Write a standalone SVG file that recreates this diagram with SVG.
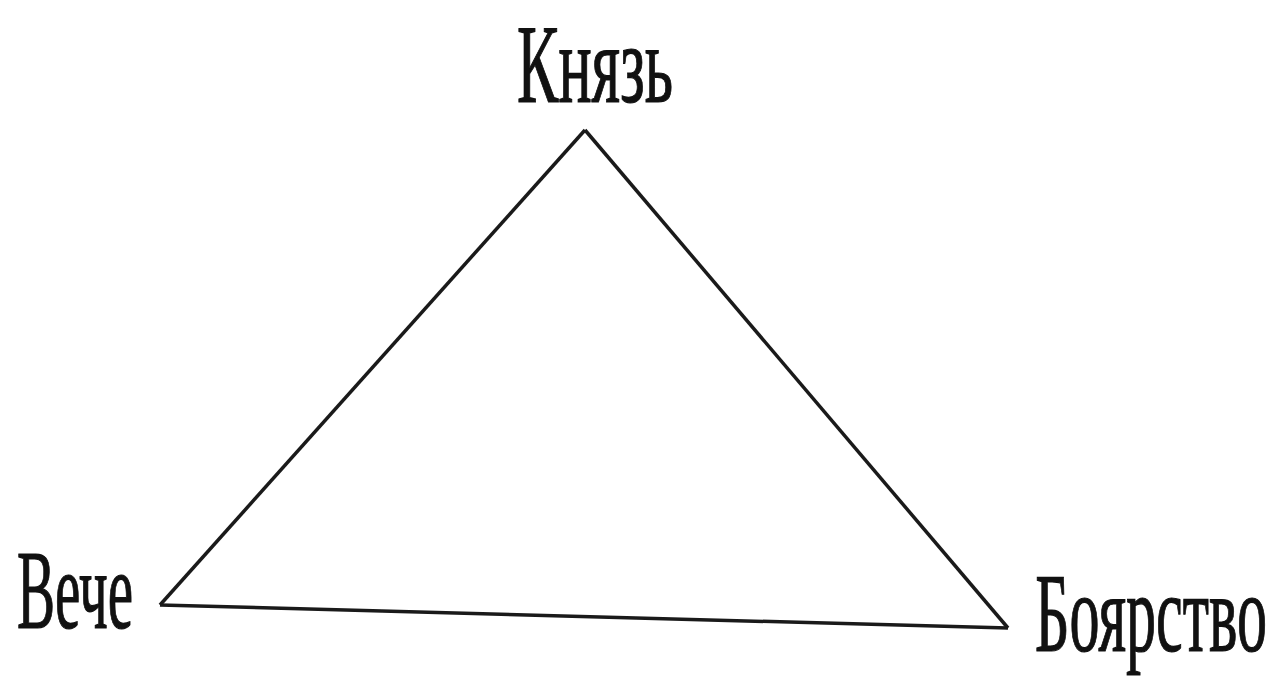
<svg xmlns="http://www.w3.org/2000/svg" width="1279" height="679" viewBox="0 0 1279 679">
<style>
.lbl{font-family:"Liberation Serif","Times New Roman",serif;font-size:112px;fill:#111;stroke:#111;stroke-width:1.2}
.edge{stroke:#1a1a1a;stroke-width:3.5;fill:none;stroke-linejoin:miter}
</style>
<rect width="1279" height="679" fill="#fff"/>
<g id="connectors">
<path class="edge" d="M585,130 L160,605"/>
<path class="edge" d="M585,130 L1008,628"/>
<path class="edge" d="M160,605 L1008,628" stroke-width="4.5"/>
</g>
<g id="node-knyaz" transform="translate(517,102) scale(0.55,1)"><text class="lbl" x="0" y="0" textLength="283.6" lengthAdjust="spacingAndGlyphs">Князь</text></g>
<g id="node-veche" transform="translate(17,628) scale(0.55,1)"><text class="lbl" x="0" y="0" textLength="211" lengthAdjust="spacingAndGlyphs">Вече</text></g>
<g id="node-boyarstvo" transform="translate(1035,651) scale(0.55,1)"><text class="lbl" x="0" y="0" font-size="108" textLength="421.8" lengthAdjust="spacingAndGlyphs">Боярство</text></g>
</svg>
